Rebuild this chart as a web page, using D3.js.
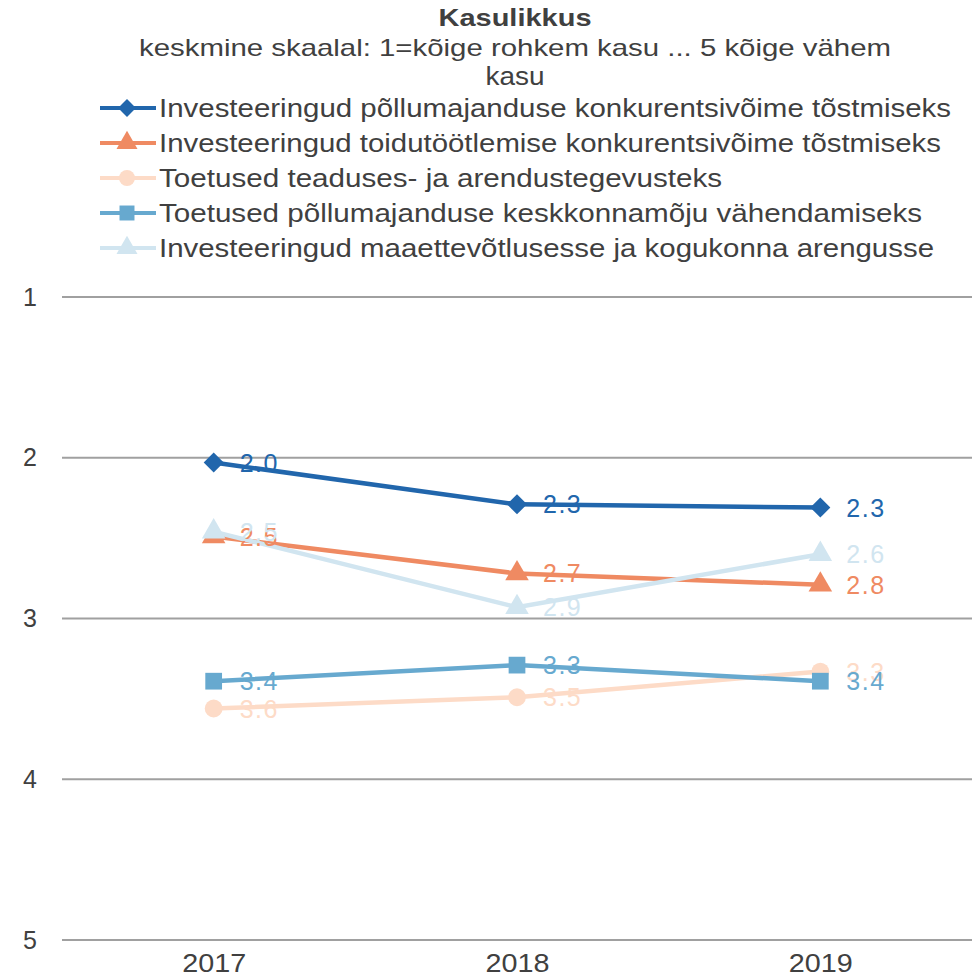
<!DOCTYPE html>
<html>
<head>
<meta charset="utf-8">
<script src="https://cdn.jsdelivr.net/npm/d3@7"></script>
<style>
  body { margin: 0; background: #fff; }
  svg text { font-family: "Liberation Sans", Arial, sans-serif; }
</style>
</head>
<body>
<div id="chart"></div>
<script>
// andmed
var years = ["2017", "2018", "2019"];
var seriesNames = [
  "Investeeringud põllumajanduse konkurentsivõime tõstmiseks",
  "Investeeringud toidutöötlemise konkurentsivõime tõstmiseks",
  "Toetused teaduses- ja arendustegevusteks",
  "Toetused põllumajanduse keskkonnamõju vähendamiseks",
  "Investeeringud maaettevõtlusesse ja kogukonna arengusse"
];
var s1 = [2.03, 2.29, 2.31];
var s2 = [2.49, 2.72, 2.79];
var s3 = [3.56, 3.49, 3.33];
var s4 = [3.39, 3.29, 3.39];
var s5 = [2.46, 2.93, 2.60];
var yTicks = [1, 2, 3, 4, 5];

var colors = ["#2166ac", "#ef8a62", "#fddbc7", "#67a9cf", "#d1e5f0"];
var symbols = [d3.symbolSquare, d3.symbolTriangle, d3.symbolCircle, d3.symbolSquare, d3.symbolTriangle];
var symRotate = [45, 0, 0, 0, 0];
var symSizes = [200, 240, 250, 280, 240];
var legendWidths = [792, 782, 563, 763, 775];

var width = 976, height = 980;
var svg = d3.select("#chart").append("svg")
    .attr("width", width)
    .attr("height", height);

// skaalad
var x = d3.scalePoint().domain(years).range([62, 972]).padding(0.5);
var y = d3.scaleLinear().domain([1, 5]).range([297, 940]);

// pealkiri
svg.append("text")
    .attr("x", 515).attr("y", 26)
    .attr("text-anchor", "middle")
    .attr("font-size", 24).attr("font-weight", "bold")
    .attr("fill", "#404040")
    .attr("textLength", 153).attr("lengthAdjust", "spacingAndGlyphs")
    .text("Kasulikkus");
svg.append("text")
    .attr("x", 515).attr("y", 56)
    .attr("text-anchor", "middle")
    .attr("font-size", 24).attr("fill", "#404040")
    .attr("textLength", 752).attr("lengthAdjust", "spacingAndGlyphs")
    .text("keskmine skaalal: 1=kõige rohkem kasu ... 5 kõige vähem");
svg.append("text")
    .attr("x", 515).attr("y", 85)
    .attr("text-anchor", "middle")
    .attr("font-size", 25).attr("fill", "#404040")
    .attr("textLength", 59).attr("lengthAdjust", "spacingAndGlyphs")
    .text("kasu");

// legend
var legend = svg.append("g").selectAll("g")
    .data(seriesNames)
    .join("g")
    .attr("transform", (d, i) => "translate(0," + (108 + i * 35) + ")");
legend.append("line")
    .attr("x1", 100).attr("x2", 156)
    .attr("stroke", (d, i) => colors[i])
    .attr("stroke-width", 4);
legend.append("path")
    .attr("transform", (d, i) => "translate(127,0) rotate(" + symRotate[i] + ")")
    .attr("d", (d, i) => d3.symbol(symbols[i], symSizes[i] * 0.8)())
    .attr("fill", (d, i) => colors[i]);
legend.append("text")
    .attr("x", 159).attr("y", 9)
    .attr("font-size", 25).attr("fill", "#404040")
    .attr("textLength", (d, i) => legendWidths[i])
    .attr("lengthAdjust", "spacingAndGlyphs")
    .text(d => d);

// y telg + ruudustik
var yAxis = d3.axisLeft(y).tickValues(yTicks).tickSize(0).tickPadding(0).tickFormat(d3.format("d"));
var gy = svg.append("g").attr("transform", "translate(37,0)").call(yAxis);
gy.select(".domain").remove();
gy.selectAll("text").attr("font-size", 25).attr("fill", "#404040").attr("font-family", null);

svg.append("g").selectAll("line")
    .data(yTicks)
    .join("line")
    .attr("x1", 62).attr("x2", 972)
    .attr("y1", d => y(d)).attr("y2", d => y(d))
    .attr("stroke", "#a0a0a0")
    .attr("stroke-width", 2);

// x telg
var xAxis = d3.axisBottom(x).tickSize(0).tickPadding(14);
var gx = svg.append("g").attr("transform", "translate(0," + y(5) + ")").call(xAxis);
gx.select(".domain").remove();
gx.selectAll("text").attr("font-size", 25).attr("fill", "#404040").attr("font-family", null)
    .attr("textLength", 64).attr("lengthAdjust", "spacingAndGlyphs");

// jooned
var allSeries = [s1, s2, s3, s4, s5];
var line = d3.line().x((d, i) => x(years[i])).y(d => y(d));

allSeries.forEach(function (vals, si) {
  var g = svg.append("g");
  g.append("path")
      .datum(vals)
      .attr("d", line)
      .attr("fill", "none")
      .attr("stroke", colors[si])
      .attr("stroke-width", 4.5);
  g.selectAll("path.m")
      .data(vals)
      .join("path")
      .attr("class", "m")
      .attr("transform", (d, i) => "translate(" + x(years[i]) + "," + y(d) + ") rotate(" + symRotate[si] + ")")
      .attr("d", d3.symbol(symbols[si], symSizes[si]))
      .attr("fill", colors[si]);
});

// väärtuste sildid
allSeries.forEach(function (vals, si) {
  svg.append("g").selectAll("text")
      .data(vals)
      .join("text")
      .attr("x", (d, i) => x(years[i]) + 26)
      .attr("y", d => y(d) + 9)
      .attr("font-size", 25)
      .attr("letter-spacing", 1.5)
      .attr("fill", colors[si])
      .text(d => d3.format(".1f")(d));
});
</script>
</body>
</html>
